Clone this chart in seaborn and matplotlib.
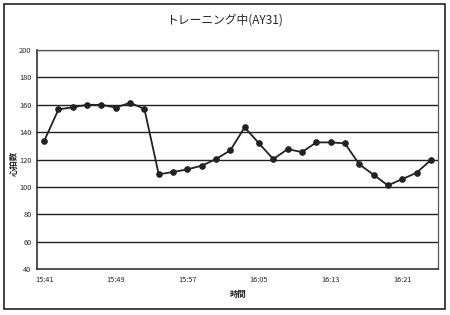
import matplotlib
matplotlib.use("Agg")
import matplotlib.pyplot as plt
import seaborn as sns
import pandas as pd
from matplotlib.patches import Rectangle

heart_rate = [133.6, 156.7, 158.2, 160, 160, 158, 161.5, 157, 109.3, 111, 112.9, 115.6,
              120.4, 126.8, 143.6, 131.9, 120.4, 127.7, 125.5, 132.6, 132.6, 131.9,
              116.6, 109, 101.2, 105.8, 110.4, 119.7]
tick_positions = [0, 5, 10, 15, 20, 25]
tick_labels = ["15:41", "15:49", "15:57", "16:05", "16:13", "16:21"]
y_ticks = [40, 60, 80, 100, 120, 140, 160, 180, 200]

title = "トレーニング中(AY31)"
xlabel = "時間"
ylabel = "心拍数"

sns.set_theme(style="white")
plt.rcParams['font.family'] = ['Noto Sans CJK JP', 'DejaVu Sans']

df = pd.DataFrame({"idx": list(range(len(heart_rate))), "hr": heart_rate})

fig = plt.figure(figsize=(4.5, 3.15), dpi=100)
fig.patches.append(Rectangle((4/450, 1-309/315), 441/450, 305/315, transform=fig.transFigure,
                             fill=False, edgecolor="#222222", linewidth=1.2))
ax = fig.add_axes([37/450, 1-269.3/315, 401/450, 219.3/315])

for v in y_ticks[1:]:
    ax.axhline(v, color="#222222", linewidth=1.0, zorder=1)

sns.lineplot(data=df, x="idx", y="hr", ax=ax, color="#222222", linewidth=1.3,
             marker="o", markersize=4, markeredgecolor="#222222", zorder=3)

ax.set_xlim(-0.5, len(heart_rate) - 0.5)
ax.set_ylim(40, 200)
ax.set_yticks(y_ticks)
ax.set_yticklabels([str(v) for v in y_ticks], fontsize=5.3)
ax.set_xticks(tick_positions)
ax.set_xticklabels(tick_labels, fontsize=5.3)
ax.set_xticks([i + 0.5 for i in range(len(heart_rate) - 1)], minor=True)
ax.tick_params(axis="x", which="major", length=0, pad=5)
ax.tick_params(axis="x", which="minor", direction="in", length=3, width=0.9, color="#222222")
ax.tick_params(axis="y", which="major", direction="out", length=2, width=0.8, color="#222222", pad=2)

for side in ["left", "bottom"]:
    ax.spines[side].set_color("#222222")
    ax.spines[side].set_linewidth(1.1)
for side in ["top", "right"]:
    ax.spines[side].set_color("#555555")
    ax.spines[side].set_linewidth(0.9)

ax.set_xlabel(xlabel, fontsize=6, fontweight="bold")
ax.set_ylabel(ylabel, fontsize=6, fontweight="bold")
ax.xaxis.set_label_coords(0.5, -0.095)
ax.yaxis.set_label_coords(-0.044, 0.485)
fig.text(0.5, 1-20/315, title, ha="center", va="center", fontsize=8.5)

fig.savefig("out.png", dpi=100, facecolor="white")
